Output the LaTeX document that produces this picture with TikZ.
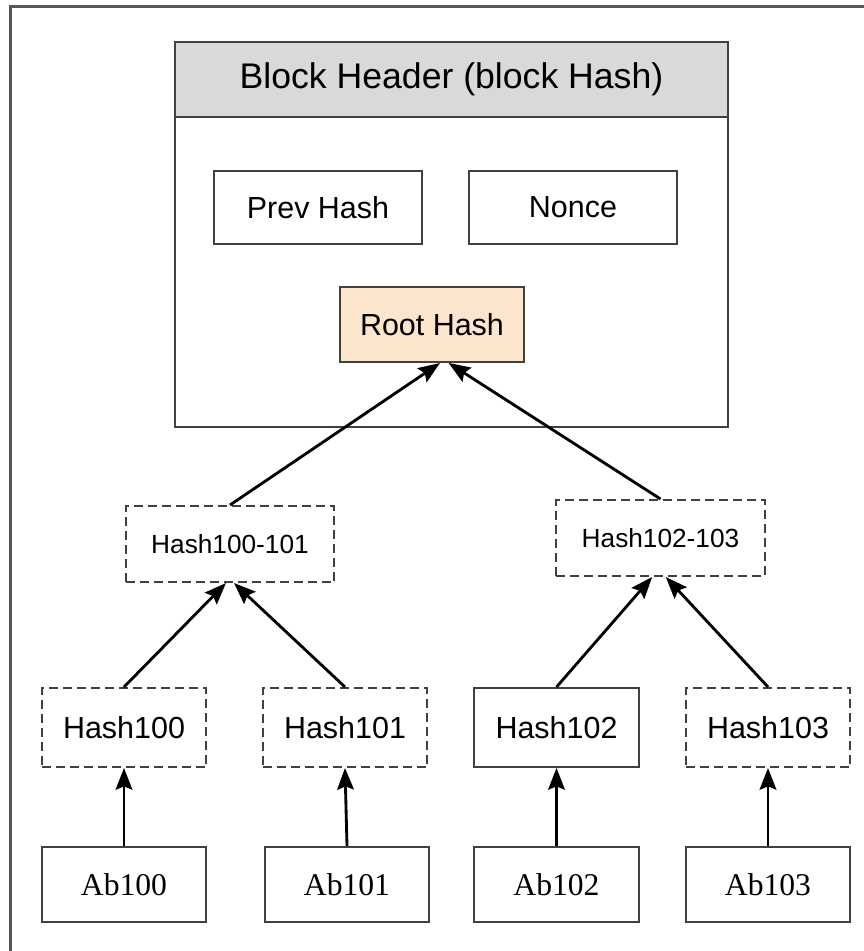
\documentclass[tikz,border=0pt]{standalone}
\usepackage{fontspec}
\setmainfont{Liberation Sans}
\newfontfamily\abfont{Liberation Serif}
\usetikzlibrary{arrows.meta}

\definecolor{headgray}{RGB}{217,217,217}
\definecolor{rootfill}{RGB}{252,229,205}
\definecolor{edgegray}{RGB}{64,64,64}
\definecolor{framegray}{RGB}{85,85,85}

\begin{document}
\begin{tikzpicture}[x=0.3mm, y=0.3mm]
\tikzstyle{every node}+=[inner sep=0pt]
\tikzstyle{box}=[draw=edgegray, line width=0.6mm, rectangle]
\tikzstyle{dbox}=[box, dash pattern=on 2.7mm off 1.5mm]
\tikzstyle{leaf}=[box, minimum width=49.4mm, minimum height=23.7mm, font=\fontsize{26}{31}\selectfont]
\tikzstyle{ab}=[box, minimum width=49.4mm, minimum height=22.5mm, font=\abfont\fontsize{27}{32}\selectfont]
\tikzstyle{mid}=[dbox, minimum width=62.6mm, minimum height=22.8mm, font=\fontsize{22.4}{27}\selectfont]
\tikzstyle{link}=[black, line width=0.85mm, -{Stealth[length=6.5mm,width=5mm,inset=1mm]}]
\useasboundingbox (0,0) rectangle (864,-951);
% open frame, left and top only
\draw [framegray, line width=0.9mm] (10,-951) -- (10,-6) -- (864,-6);
% block header
\node [box, minimum width=165.9mm, minimum height=115.5mm] (block) at (451.5,-234.5) {};
\node [box, fill=headgray, minimum width=165.9mm, minimum height=22.5mm] (header) at (451.5,-79.5) {\fontsize{30.4}{36}\selectfont Block Header (block Hash)};
\node [box, minimum width=62.4mm, minimum height=21.9mm, font=\fontsize{26}{31}\selectfont] (prev) at (318,-207.5) {Prev Hash};
\node [box, minimum width=62.4mm, minimum height=21.9mm, font=\fontsize{26}{31}\selectfont] (nonce) at (573,-207.5) {Nonce};
\node [box, fill=rootfill, minimum width=55.2mm, minimum height=22.5mm, font=\fontsize{26}{31}\selectfont] (root) at (432,-324.5) {Root Hash};
% intermediate hashes
\node [mid] (h0001) at (230,-544) {Hash100-101};
\node [mid] (h0203) at (660.5,-538) {Hash102-103};
% leaf hashes
\node [leaf, dbox] (h100) at (124,-727.5) {Hash100};
\node [leaf, dbox] (h101) at (345,-727.5) {Hash101};
\node [leaf] (h102) at (556.5,-727.5) {Hash102};
\node [leaf, dbox] (h103) at (768,-727.5) {Hash103};
% data blocks
\node [ab] (ab100) at (124,-884.5) {Ab100};
\node [ab] (ab101) at (347,-884.5) {Ab101};
\node [ab] (ab102) at (556.5,-884.5) {Ab102};
\node [ab] (ab103) at (768,-884.5) {Ab103};
\draw [link] (ab100.north) -- (h100.south);
\draw [link] (ab101.north) -- (h101.south);
\draw [link] (ab102.north) -- (h102.south);
\draw [link] (ab103.north) -- (h103.south);
\draw [link] (h100.north) -- ([xshift=-1.2mm]h0001.south);
\draw [link] (h101.north) -- ([xshift=1.2mm]h0001.south);
\draw [link] (h102.north) -- ([xshift=-2.5mm]h0203.south);
\draw [link] (h103.north) -- ([xshift=1.6mm]h0203.south);
\draw [link] (h0001.north) -- ([xshift=2.4mm]root.south);
\draw [link] (h0203.north) -- ([xshift=5mm]root.south);
\end{tikzpicture}
\end{document}
